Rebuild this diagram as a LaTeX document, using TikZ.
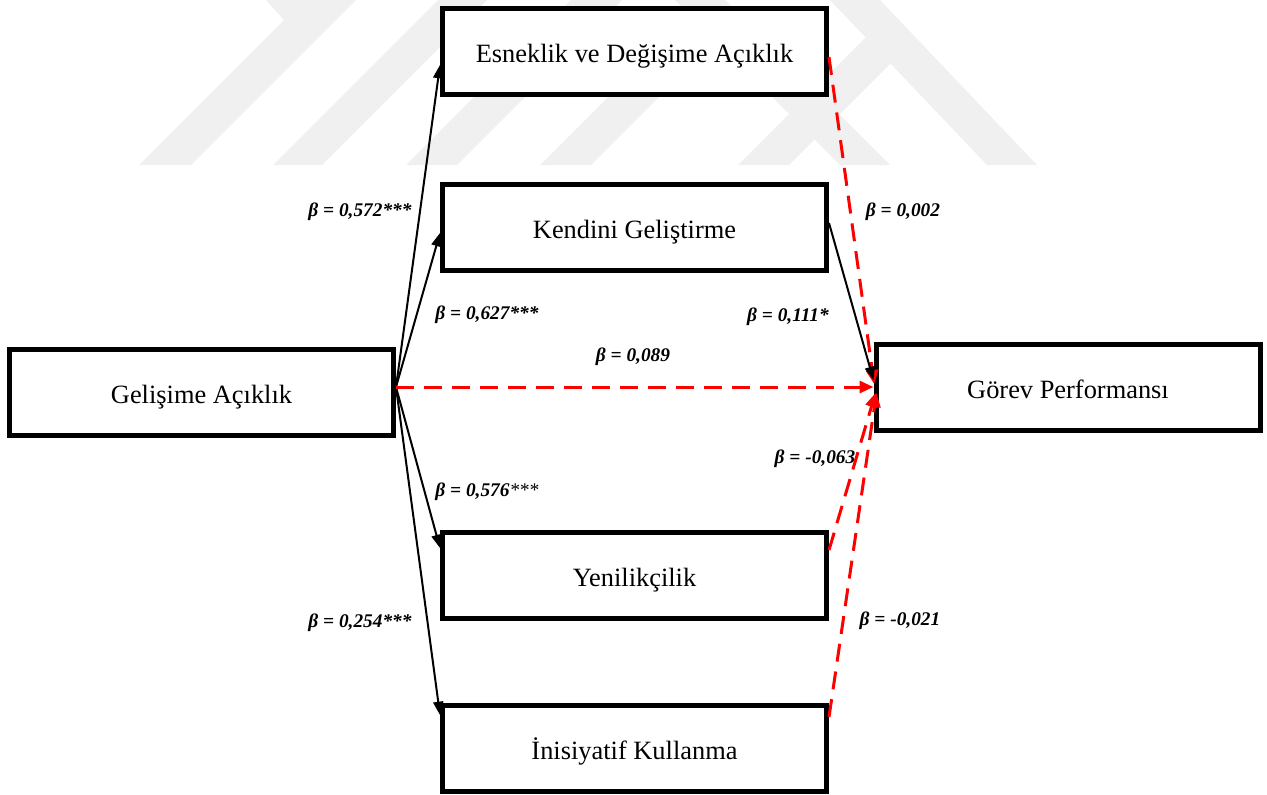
\documentclass[tikz,border=0pt]{standalone}
\usepackage{fontspec}
\setmainfont{Liberation Serif}
\usetikzlibrary{arrows.meta,calc}

\tikzset{
  varbox/.style={draw=black, line width=3.75pt, fill=white, inner sep=0pt,
    minimum width=288pt, minimum height=64.5pt,
    text height=20pt, text depth=3.5pt,
    font=\fontsize{19.8}{24}\selectfont},
  beta/.style={inner sep=0pt, font=\fontsize{14.5}{17}\selectfont\bfseries\itshape},
  sigpath/.style={draw=black, line width=1.5pt,
    -{Triangle[length=10pt,width=7.5pt]}},
  nspath/.style={draw=red, line width=2.25pt, dash pattern=on 13.5pt off 7.5pt,
    -{Triangle[length=10.5pt,width=9pt]}},
  emblem/.style={fill=black!6, draw=none}
}

\begin{document}
\begin{tikzpicture}[x=0.75pt, y=-0.75pt]
\useasboundingbox (0,0) rectangle (1267,794);

% faint background emblem
\fill[emblem] (139,165) -- (191,165) -- (356,0) -- (266,0) -- (284,20) -- cycle;
\fill[emblem] (273,165) -- (322,165) -- (487,0) -- (438,0) -- cycle;
\fill[emblem] (406,165) -- (457,165) -- (622,0) -- (571,0) -- cycle;
\fill[emblem] (540,165) -- (591,165) -- (741,15) -- (690,15) -- cycle;
\fill[emblem] (675,0) -- (725,0) -- (890,165) -- (840,165) -- cycle;
\fill[emblem] (738,165) -- (789,165) -- (916,38) -- (866,37) -- cycle;
\fill[emblem] (830,0) -- (880,0) -- (1037,165) -- (987,165) -- cycle;

% variables
\node[varbox] (esn) at (634.5,51.5) {Esneklik ve Değişime Açıklık};
\node[varbox] (ken) at (634.5,227) {Kendini Geliştirme};
\node[varbox] (gel) at (201.5,392) {Gelişime Açıklık};
\node[varbox] (gor) at (1068,387.5) {Görev Performansı};
\node[varbox] (yen) at (634.5,575) {Yenilikçilik};
\node[varbox] (ini) at (634.5,748) {İnisiyatif Kullanma};

\coordinate (src) at ([yshift=3.75pt]gel.east);

% paths from Gelişime Açıklık
\draw[sigpath] (src) -- ([yshift=-10.1pt]esn.west);
\draw[sigpath] (src) -- ([yshift=-4.5pt]ken.west);
\draw[sigpath] (src) -- ([yshift=20.25pt]yen.west);
\draw[sigpath] (src) -- ([yshift=24.75pt]ini.west);

% paths into Görev Performansı
\draw[nspath] ([yshift=-4.1pt]esn.east) -- ([shift={(0.5pt,2.6pt)}]gor.west);
\draw[nspath] ([yshift=18.75pt]yen.east) -- ([shift={(1.5pt,-4.1pt)}]gor.west);
\draw[nspath] ([yshift=23.25pt]ini.east) -- ([shift={(2.2pt,-4.1pt)}]gor.west);
\draw[nspath] (src) -- (src -| gor.west);
\draw[sigpath] ([yshift=3pt]ken.east) -- ([yshift=5.6pt]gor.west);

% coefficients
\node[beta] (b1) at (360,212) {β = 0,572***};
\node[beta] (b2) at (487,315) {β = 0,627***};
\node[beta] (b3) at (903,212) {β = 0,002};
\node[beta] (b4) at (788,317) {β = 0,111*};
\node[beta] (b5) at (633,357) {β = 0,089};
\node[beta] (b6) at (815,459) {β = -0,063};
\node[beta] (b7) at (487,492) {β = 0,576{\mdseries***}};
\node[beta] (b8) at (360,623) {β = 0,254***};
\node[beta] (b9) at (900,621) {β = -0,021};
\end{tikzpicture}
\end{document}
